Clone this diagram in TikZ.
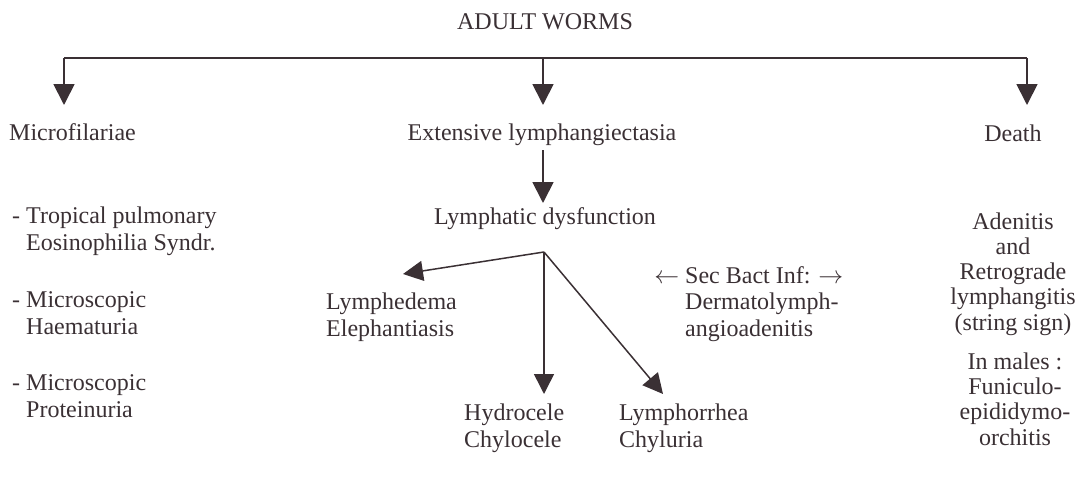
\documentclass[tikz,border=0pt]{standalone}
\usepackage{fontspec}
\setmainfont{Liberation Serif}
\usetikzlibrary{arrows.meta}
\definecolor{ink}{HTML}{3A3034}
\begin{document}
\begin{tikzpicture}[x=1pt,y=-1pt,
  every node/.style={inner sep=0pt, text=ink, font=\fontsize{24}{26.5}\selectfont},
  lbl/.style={anchor=base west, align=left},
  ctr/.style={anchor=base, align=center},
  tight/.style={font=\fontsize{24}{25.2}\selectfont},
  arr/.style={draw=ink, line width=1.8pt, -{Triangle[length=21pt,width=21pt]}},
  thin/.style={draw=ink, line width=1.5pt, -{Triangle[length=20pt,width=20pt]}},
  ln/.style={draw=ink, line width=1.8pt}]
\useasboundingbox (0,0) rectangle (1077,477);
% texts (multi-line nodes are placed by the baseline of their last line)
\node[ctr] (adult) at (545,29) {ADULT WORMS};
\node[lbl] (micro) at (9,140) {Microfilariae};
\node[ctr] (ext) at (542,140) {Extensive lymphangiectasia};
\node[ctr] (death) at (1013,141) {Death};
\node[ctr] (lymdys) at (545,224) {Lymphatic dysfunction};
\node[lbl] (trop) at (26,250) {\llap{- }Tropical pulmonary\\Eosinophilia Syndr.};
\node[lbl] (haem) at (26,334) {\llap{- }Microscopic\\Haematuria};
\node[lbl] (prot) at (26,417) {\llap{- }Microscopic\\Proteinuria};
\node[lbl] (lymph) at (326,336) {Lymphedema\\Elephantiasis};
\node[lbl] (hydro) at (464,447) {Hydrocele\\Chylocele};
\node[lbl] (lorr) at (619,447) {Lymphorrhea\\Chyluria};
\node[lbl] (sec) at (685,336) {\llap{$\leftarrow$\ }Sec Bact Inf: $\rightarrow$\\Dermatolymph-\\angioadenitis};
\node[ctr,tight] (aden) at (1013,330) {Adenitis\\and\\Retrograde\\lymphangitis\\(string sign)};
\node[ctr,tight] (males) at (1015,445) {In males :\\Funiculo-\\epididymo-\\orchitis};
% coordinates
\coordinate (barL) at (64,58);
\coordinate (barM) at (543,58);
\coordinate (barR) at (1027,58);
\coordinate (tipL) at (64,105);
\coordinate (tipM) at (543,105);
\coordinate (tipR) at (1027,105);
\coordinate (extB) at (543,150);
\coordinate (lymT) at (543,203);
\coordinate (br) at (544,252);
\coordinate (tipLy) at (403,274);
\coordinate (tipHy) at (544,394);
\coordinate (tipLo) at (663,394);
% connectors
\draw[ln] (barL) -- (barR);
\draw[arr] (barL) -- (tipL);
\draw[arr] (barM) -- (tipM);
\draw[arr] (barR) -- (tipR);
\draw[arr] (extB) -- (lymT);
\draw[thin] (br) -- (tipLy);
\draw[thin] (br) -- (tipHy);
\draw[thin] (br) -- (tipLo);
\end{tikzpicture}
\end{document}
